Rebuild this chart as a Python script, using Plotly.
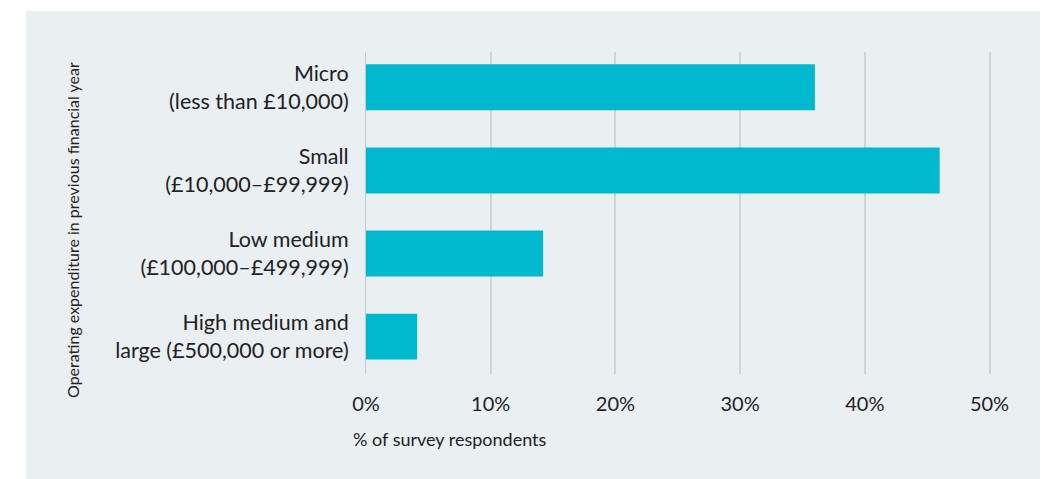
import plotly.graph_objects as go

categories = [
    "Micro<br>(less than £10,000)",
    "Small<br>(£10,000–£99,999)",
    "Low medium<br>(£100,000–£499,999)",
    "High medium and<br>large (£500,000 or more)",
]
values = [36.0, 46.0, 14.2, 4.1]
tick_vals = [0, 10, 20, 30, 40, 50]
tick_text = ["0%", "10%", "20%", "30%", "40%", "50%"]

# page body adds an 8px margin, so work in shifted coordinates
OFF = 8
W, H = 1048 - OFF, 479 - OFF
L, T = 366 - OFF, 52 - OFF
R = W - (992 - OFF)
B = H - (374 - OFF)
pw, ph = W - L - R, H - T - B

panel = "#EAEFF2"
bar_col = "#00B9CE"
txt = "#222222"
font = "Lato, 'Open Sans', sans-serif"


def px_x(x):
    return (x - OFF - L) / pw


def px_y(y):
    return (T + ph - (y - OFF)) / ph


fig = go.Figure(
    go.Bar(
        x=values,
        y=categories,
        orientation="h",
        marker=dict(color=bar_col, line=dict(width=0)),
        width=0.553,
        hoverinfo="skip",
    )
)

fig.update_layout(
    width=W,
    height=H,
    margin=dict(l=L, r=R, t=T, b=B),
    paper_bgcolor="white",
    plot_bgcolor=panel,
    showlegend=False,
    font=dict(family=font, color=txt, size=17),
    shapes=[
        dict(
            type="rect",
            xref="paper",
            yref="paper",
            x0=px_x(26),
            x1=px_x(1060),
            y0=px_y(490),
            y1=px_y(11),
            fillcolor=panel,
            line=dict(width=0),
            layer="below",
        )
    ],
    annotations=[
        dict(
            text="% of survey respondents",
            xref="paper",
            yref="paper",
            x=px_x(351),
            y=px_y(439),
            xanchor="left",
            yanchor="middle",
            showarrow=False,
            font=dict(size=18, color=txt),
        ),
        dict(
            text="Operating expenditure in previous financial year",
            xref="paper",
            yref="paper",
            x=px_x(72),
            y=px_y(230),
            textangle=-90,
            xanchor="center",
            yanchor="middle",
            showarrow=False,
            font=dict(size=16, color=txt),
        ),
    ],
)

fig.update_xaxes(
    range=[0, 50.2],
    tickvals=tick_vals,
    ticktext=tick_text,
    showgrid=True,
    gridcolor="#CDD5D9",
    gridwidth=1.5,
    zeroline=False,
    showline=False,
    ticks="outside",
    ticklen=12,
    tickcolor="rgba(0,0,0,0)",
    tickfont=dict(size=20, color=txt),
    fixedrange=True,
)
fig.update_yaxes(
    range=[3.45, -0.425],
    showgrid=False,
    zeroline=False,
    showline=True,
    linecolor="#BFCAD1",
    linewidth=1,
    ticks="outside",
    ticklen=12,
    tickcolor="rgba(0,0,0,0)",
    tickfont=dict(size=21.5, color=txt),
    fixedrange=True,
)

fig.write_html("out.html")
